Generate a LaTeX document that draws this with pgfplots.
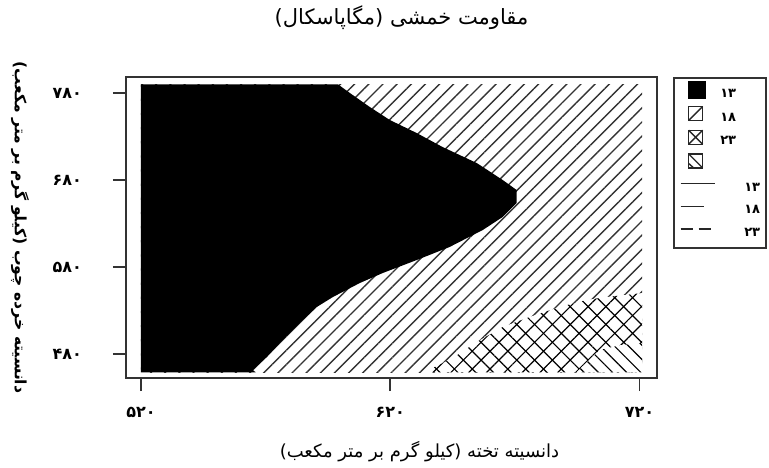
\documentclass[border=0pt]{standalone}
\usepackage{fontspec}
\usepackage{pgfplots}
\pgfplotsset{compat=1.18}
\usetikzlibrary{patterns.meta}
\TeXXeTstate=1
\newfontfamily\arabicfont[Script=Arabic]{DejaVu Sans}

% legend image helpers
\newcommand{\sq}{(0pt,-1.2pt) rectangle (7pt,5.8pt)}

\begin{document}
\begin{tikzpicture}
\begin{axis}[
    at={(0,0)}, anchor=south west,
    scale only axis,
    width=265.5pt, height=150.5pt,
    xmin=514, xmax=727, ymin=452.4, ymax=798.4,
    axis on top,
    axis line style={draw=black!80, line width=0.8pt},
    xtick={520,620,720}, xticklabels={۵۲۰,۶۲۰,۷۲۰},
    ytick={480,580,680,780}, yticklabels={۴۸۰,۵۸۰,۶۸۰,۷۸۰},
    tick align=outside, xtick pos=bottom, ytick pos=left,
    major tick length=6.5pt,
    tick style={draw=black!80, line width=0.8pt},
    ticklabel style={font=\arabicfont\bfseries\fontsize{8}{9}\selectfont},
    xticklabel style={yshift=-4.5pt},
    yticklabel style={xshift=-12pt},
    title={\arabicfont\beginR مقاومت خمشی (مگاپاسکال)\endR},
    title style={at={(0.5,1)}, anchor=center, yshift=23.5pt, xshift=5pt, font=\fontsize{10.5}{12}\selectfont},
    xlabel={\arabicfont\beginR دانسیته تخته (کیلو گرم بر متر مکعب)\endR},
    xlabel style={at={(0.5,0)}, anchor=center, yshift=-37pt, xshift=14pt, font=\fontsize{9}{11}\selectfont},
    ylabel={\arabicfont\beginR دانسیته خرده چوب (کیلو گرم بر متر مکعب)\endR},
    ylabel style={at={(0,0.5)}, anchor=center, rotate=180, yshift=-53pt, font=\bfseries\fontsize{7.8}{9}\selectfont},
    legend style={at={(1,1)}, anchor=north west, xshift=8pt,
        draw=black!80, line width=0.9pt, fill=white,
        font=\arabicfont\bfseries\fontsize{6.5}{7}\selectfont,
        inner xsep=3pt, inner ysep=1.5pt,
        row sep=0pt, column sep=2.5pt,
        nodes={inner sep=0pt, text height=7.2pt, text depth=4.15pt}},
    legend cell align=left,
]
% region 18 (background hatch)
\addplot[forget plot, draw=none, pattern={Lines[angle=45,distance=5pt,line width=0.7pt]}, pattern color=black!80]
    coordinates {(520,459) (721,459) (721,790) (520,790) (520,459)};
% region 13 (solid black)
\addplot[forget plot, draw=none, fill=black]
    coordinates {(520,459) (520,790) (599,790) (603.8,780) (611.8,763.9) (619.8,749)
    (630.6,734) (641,717.9) (654.7,699.5) (665.1,680) (670.7,668.5) (670.7,653.6)
    (665.1,637.5) (657.1,622.5) (643.8,603) (630.6,588) (617,573.1) (607.8,561.6)
    (597,545.5) (590.5,534) (583.7,515.6) (576.9,496.1) (570.5,476.6) (564.9,461.6)
    (566,459) (520,459)};
% region 23 (cross hatch)
\addplot[forget plot, draw=none, fill=white]
    coordinates {(633.6,459) (645.1,475.4) (654.7,493.8) (665.1,511) (675.9,522.5)
    (687.9,534) (698.8,542.1) (706.8,545.5) (721,550) (721,459) (633.6,459)};
\addplot[forget plot, draw=none, pattern={Lines[angle=45,distance=6.3pt,line width=0.6pt]}, pattern color=black]
    coordinates {(633.6,459) (645.1,475.4) (654.7,493.8) (665.1,511) (675.9,522.5)
    (687.9,534) (698.8,542.1) (706.8,545.5) (721,550) (721,459) (633.6,459)};
\addplot[forget plot, draw=none, pattern={Lines[angle=-45,distance=6.3pt,line width=0.6pt]}, pattern color=black]
    coordinates {(633.6,459) (645.1,475.4) (654.7,493.8) (665.1,511) (675.9,522.5)
    (687.9,534) (698.8,542.1) (706.8,545.5) (721,550) (721,459) (633.6,459)};
% highest level (back hatch)
\addplot[forget plot, draw=none, fill=white]
    coordinates {(694.7,459) (704,484.6) (712,490) (721,492.6) (721,459) (694.7,459)};
\addplot[forget plot, draw=none, pattern={Lines[angle=-45,distance=5pt,line width=0.6pt]}, pattern color=black]
    coordinates {(694.7,459) (704,484.6) (712,490) (721,492.6) (721,459) (694.7,459)};

% legend
\addlegendimage{legend image code/.code={\draw[black, line width=0.6pt, fill=black] (0pt,-1.8pt) rectangle (8.3pt,6.5pt);}}
\addlegendentry{۱۳}
\addlegendimage{legend image code/.code={\draw[black!85, line width=0.7pt] \sq; \draw[black!85, line width=0.7pt] (0pt,-1.2pt) -- (7pt,5.8pt);}}
\addlegendentry{۱۸}
\addlegendimage{legend image code/.code={\draw[black!85, line width=0.7pt] \sq; \draw[black!85, line width=0.7pt] (0pt,-1.2pt) -- (7pt,5.8pt) (0pt,5.8pt) -- (7pt,-1.2pt);}}
\addlegendentry{۲۳}
\addlegendimage{legend image code/.code={\draw[black!85, line width=0.7pt] \sq; \draw[black!85, line width=0.7pt] (0pt,5.8pt) -- (7pt,-1.2pt) (0pt,1pt) -- (2.5pt,-1.2pt);}}
\addlegendentry{~}
\addlegendimage{legend image code/.code={\draw[black!85, line width=0.7pt] (-4pt,2.3pt) -- (13pt,2.3pt);}}
\addlegendentry{\hspace{12pt}۱۳}
\addlegendimage{legend image code/.code={\draw[black!85, line width=0.7pt] (-4pt,2.3pt) -- (7.5pt,2.3pt);}}
\addlegendentry{\hspace{12pt}۱۸}
\addlegendimage{legend image code/.code={\draw[black!85, line width=0.7pt, dash pattern=on 6pt off 3pt] (-4pt,2.3pt) -- (13pt,2.3pt);}}
\addlegendentry{\hspace{12pt}۲۳}
\end{axis}
\pgfresetboundingbox
\path (-63pt,-44.5pt) rectangle (321.5pt,189pt);
\end{tikzpicture}
\end{document}
